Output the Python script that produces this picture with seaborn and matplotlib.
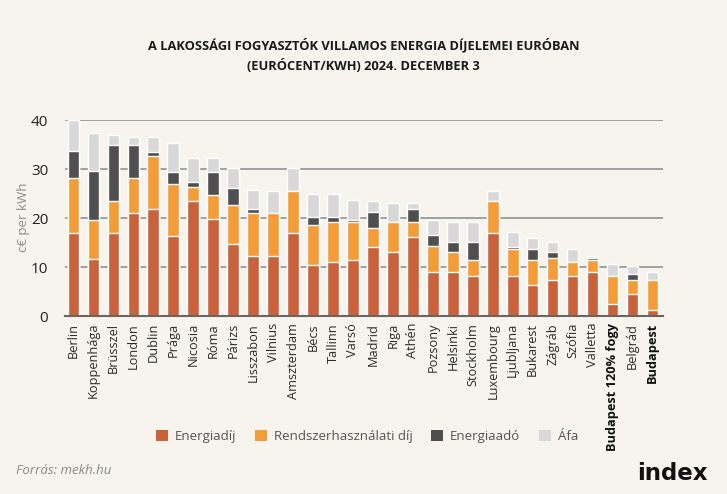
import seaborn as sns
import pandas as pd
import matplotlib.pyplot as plt
from matplotlib.patches import Patch

# Values (eurocent / kWh)
cities = ["Berlin", "Koppenhága", "Brüsszel", "London", "Dublin", "Prága", "Nicosia",
          "Róma", "Párizs", "Lisszabon", "Vilnius", "Amszterdam", "Bécs", "Tallinn",
          "Varsó", "Madrid", "Riga", "Athén", "Pozsony", "Helsinki", "Stockholm",
          "Luxembourg", "Ljubljana", "Bukarest", "Zágráb", "Szófia", "Valletta",
          "Budapest 120% fogy", "Belgrád", "Budapest"]
energiadij = [16.9, 11.6, 16.9, 21.0, 21.8, 16.3, 23.5, 19.9, 14.8, 12.3, 12.3, 16.9,
              10.5, 11.0, 11.5, 14.0, 13.1, 16.2, 9.0, 9.0, 8.1, 16.9, 8.1, 6.3, 7.3,
              8.1, 9.0, 2.4, 4.4, 1.2]
rendszer = [11.3, 7.9, 6.6, 7.2, 10.9, 10.6, 2.8, 4.9, 7.9, 8.7, 8.7, 8.7, 8.1, 8.2,
            7.7, 4.0, 6.1, 3.0, 5.3, 4.1, 3.4, 6.6, 5.5, 5.1, 4.6, 2.9, 2.5, 5.7, 2.9, 6.1]
energiaado = [5.5, 10.1, 11.4, 6.7, 0.7, 2.4, 1.1, 4.5, 3.4, 0.8, 0.0, 0.0, 1.7, 1.1,
              0.4, 3.3, 0.0, 2.6, 2.2, 2.0, 3.6, 0.0, 0.4, 2.2, 1.2, 0.0, 0.4, 0.0, 1.3, 0.0]
afa = [6.3, 7.7, 2.0, 1.6, 3.1, 6.1, 4.8, 2.9, 4.1, 3.9, 4.6, 4.7, 4.7, 4.7, 4.1, 2.2,
       3.9, 1.3, 3.0, 4.1, 4.1, 2.1, 3.1, 2.3, 2.1, 2.6, 0.4, 2.6, 1.7, 1.7]

series = ["Energiadíj", "Rendszerhasználati díj", "Energiaadó", "Áfa"]
colors = ["#c9623b", "#f39c38", "#4f4f4f", "#d8d8d8"]
bold_labels = ["Budapest 120% fogy", "Budapest"]

bg = "#f7f4ee"

df = pd.DataFrame({"city": cities, series[0]: energiadij, series[1]: rendszer,
                   series[2]: energiaado, series[3]: afa})
# cumulative sums for stacking
cum = df[series].cumsum(axis=1)
cum["city"] = df["city"]

sns.set_style("white")
plt.rcParams["font.family"] = ["Open Sans", "DejaVu Sans"]

fig = plt.figure(figsize=(7.27, 4.94), dpi=100, facecolor=bg)
ax = fig.add_axes([0.0894, 0.3603, 0.8230, 0.3967])
ax.set_facecolor(bg)

# draw from the top of the stack down so lower segments cover the upper ones
for name, col in zip(series[::-1], colors[::-1]):
    sns.barplot(data=cum, x="city", y=name, color=col, width=0.58,
                saturation=1, ax=ax, zorder=3)

ax.set_xlim(-0.42, 29.54)
ax.set_ylim(0, 40)
ax.set_yticks([0, 10, 20, 30, 40])
ax.yaxis.grid(True, color="#9a9a9a", linewidth=1.3, zorder=0)
ax.set_axisbelow(True)
for s in ["top", "right", "left"]:
    ax.spines[s].set_visible(False)
ax.spines["bottom"].set_color("#666666")
ax.spines["bottom"].set_linewidth(1.5)
ax.spines["bottom"].set_zorder(4)

ax.tick_params(axis="y", length=0, pad=12, labelsize=11, labelcolor="#222222")
ax.tick_params(axis="x", length=0, pad=5, labelsize=9.2, labelcolor="#2a2a2a")
ax.set_xticks(range(len(cities)))
ax.set_xticklabels(cities, rotation=90)
for lbl in ax.get_xticklabels():
    if lbl.get_text() in bold_labels:
        lbl.set_fontweight("bold")
        lbl.set_color("#111111")

ax.set_xlabel("")
ax.set_ylabel("c€ per kWh", fontsize=9.5, color="#8c8c8c")
ax.yaxis.set_label_coords(-0.058, 0.505)

fig.text(0.5, 0.908, "A LAKOSSÁGI FOGYASZTÓK VILLAMOS ENERGIA DÍJELEMEI EURÓBAN",
         ha="center", va="center", fontsize=9.3, fontweight="bold", color="#1a1a1a")
fig.text(0.5, 0.866, "(EURÓCENT/KWH) 2024. DECEMBER 3",
         ha="center", va="center", fontsize=9.3, fontweight="bold", color="#1a1a1a")

handles = [Patch(facecolor=c, edgecolor="none") for c in colors]
fig.legend(handles, series, loc="center", bbox_to_anchor=(0.505, 0.117), ncol=4,
           frameon=False, fontsize=9.5, handlelength=0.9, handleheight=0.9,
           columnspacing=1.4, handletextpad=0.55, labelcolor="#555555")

fig.text(0.022, 0.048, "Forrás: mekh.hu", ha="left", va="center", fontsize=9.5,
         style="italic", color="#888888")
fig.text(0.974, 0.042, "index", ha="right", va="center", fontsize=16.5,
         fontweight="heavy", color="#111111", family="DejaVu Sans")

fig.savefig("out.png", dpi=100, facecolor=bg)
